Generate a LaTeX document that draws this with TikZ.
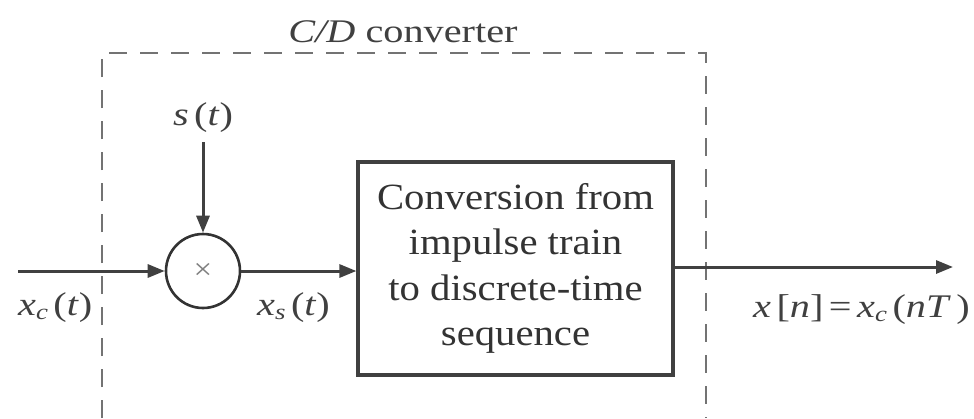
\documentclass[tikz,border=0pt]{standalone}
\usepackage{fontspec}
\setmainfont{Liberation Serif}[FakeStretch=1.1]
\newfontfamily\widefont{Liberation Serif}[FakeStretch=1.22]
\usetikzlibrary{arrows.meta}
\begin{document}
\begin{tikzpicture}[x=1pt,y=-1pt,
  sig/.style={draw=black!75, line width=3pt, -{Triangle[length=17pt,width=13pt]}},
  lbl/.style={inner sep=0pt, font=\widefont\fontsize{33}{38}\selectfont, text=black!75, anchor=base west},
  cd/.style={draw=black!55, line width=2.2pt, dash pattern=on 18pt off 13pt},
  blk/.style={draw=black!75, line width=3.2pt, inner sep=0pt, align=center,
    font=\fontsize{37}{45.5}\selectfont, text=black!80},
  mult/.style={circle, draw=black!80, line width=2.6pt, inner sep=0pt}]
\useasboundingbox (0,0) rectangle (974,418);
\fill[white] (0,0) rectangle (974,418);
% dashed C/D converter outline
\draw[cd] (102,418) -- (102,53) -- (706,53) -- (706,418);
\node[lbl, anchor=base] (cdl) at (403,42) {\textit{C/D} converter};
% multiplier and block
\node[mult, minimum size=74pt, font=\fontsize{30}{30}\selectfont, text=black!50] (m) at (203,271) {×};
\node[blk, minimum width=315pt, minimum height=213pt] (b) at (515.5,268.5)
  {Conversion from\\impulse train\\to discrete-time\\sequence};
% labels
\node[lbl, anchor=base] (st) at (203,125) {\textit{s}\,(\textit{t})};
\node[lbl] (xc) at (18,315) {\textit{x}\raisebox{-4pt}{\fontsize{22}{22}\selectfont\textit{c}}\,(\textit{t})};
\node[lbl] (xs) at (257,315) {\textit{x}\raisebox{-4pt}{\fontsize{22}{22}\selectfont\textit{s}}\,(\textit{t})};
\node[lbl] (xn) at (753,317) {\textit{x}\,[\textit{n}]\,=\,\textit{x}\raisebox{-4pt}{\fontsize{22}{22}\selectfont\textit{c}}\,(\textit{nT}\,)};
% connectors
\coordinate (in) at (18,271);
\coordinate (out) at (953,267);
\draw[sig] (in) -- (m.west);
\draw[sig, shorten <=10pt] (st.south) -- (m.north);
\draw[sig] (m.east) -- (m.east -| b.west);
\draw[sig] (out -| b.east) -- (out);
\end{tikzpicture}
\end{document}
